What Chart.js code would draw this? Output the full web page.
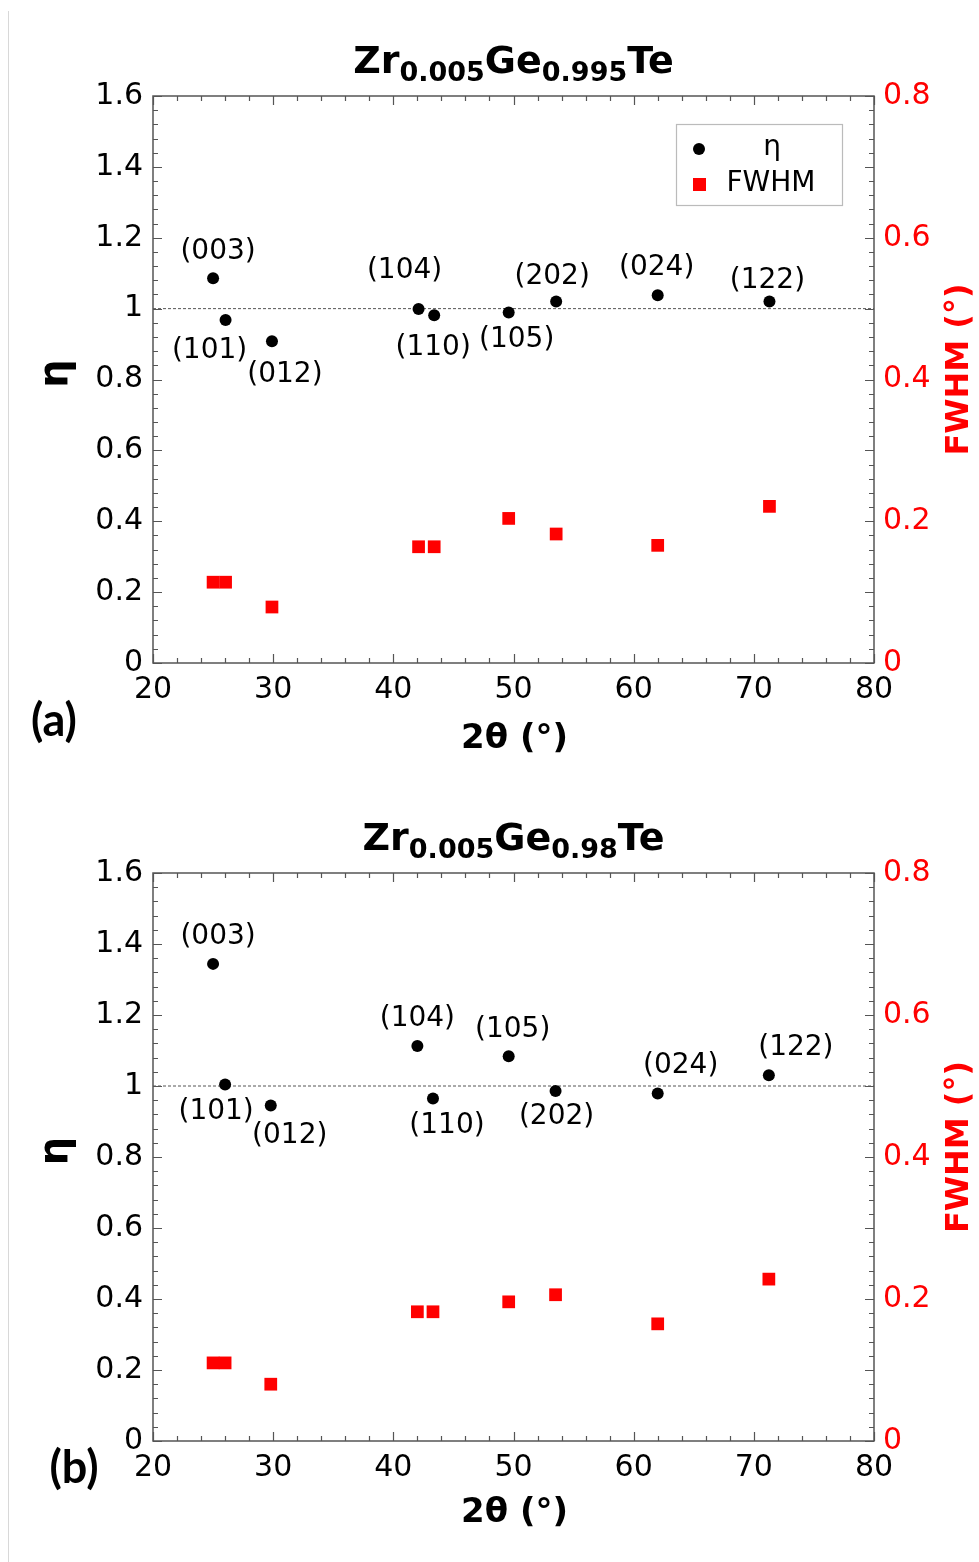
<!DOCTYPE html>
<html>
<head>
<meta charset="utf-8">
<title>η and FWHM vs 2θ</title>
<script src="https://cdn.jsdelivr.net/npm/chart.js@4.4.1/dist/chart.umd.min.js"></script>
<style>
  body { margin: 0; background: #fff; }
  #page { position: relative; width: 979px; height: 1562px; overflow: hidden; }
  #edge { position: absolute; left: 8px; top: 11px; width: 1px; height: 1551px; background: #d8d8d8; }
  canvas { position: absolute; left: 0; }
</style>
</head>
<body>
<div id="page">
  <div id="edge"></div>
  <canvas id="chartA" width="979" height="777" style="top:0"></canvas>
  <canvas id="chartB" width="979" height="785" style="top:777px"></canvas>
</div>
<script>
// reflections, same order in both samples
var reflections = ['(003)', '(101)', '(012)', '(104)', '(110)', '(105)', '(202)', '(024)', '(122)'];

// (a) Zr0.005Ge0.995Te
var twoThetaA = [25.0, 26.04, 29.9, 42.1, 43.4, 49.6, 53.55, 62.0, 71.3];
var etaA      = [1.086, 0.968, 0.908, 0.999, 0.981, 0.989, 1.020, 1.038, 1.020];
var fwhmA     = [0.114, 0.114, 0.079, 0.164, 0.164, 0.204, 0.182, 0.166, 0.221];

// (b) Zr0.005Ge0.98Te
var twoThetaB = [25.0, 26.0, 29.8, 42.0, 43.3, 49.6, 53.5, 62.0, 71.25];
var etaB      = [1.344, 1.004, 0.945, 1.113, 0.965, 1.084, 0.986, 0.979, 1.030];
var fwhmB     = [0.110, 0.110, 0.080, 0.182, 0.182, 0.196, 0.206, 0.165, 0.228];

// η = 1 reference
var refX   = [20, 80];
var refEta = [1, 1];

var titleA = [['Zr', false], ['0.005', true], ['Ge', false], ['0.995', true], ['Te', false]];
var titleB = [['Zr', false], ['0.005', true], ['Ge', false], ['0.98', true], ['Te', false]];

var tickFont = { family: 'DejaVu Sans', size: 30 };

function points(xs, ys) {
    return xs.map(function(x, i) { return { x: x, y: ys[i] }; });
}

function fmt(v) {
    return String(Math.round(v * 10) / 10);
}

/**
 * Frame, inward ticks, hkl labels, title, axis titles and legend.
 */
function decor(cfg) {
    return {
        id: 'decor',
        afterDatasetsDraw: function(chart) {
            var ctx = chart.ctx;
            var a = chart.chartArea;
            var xs = chart.scales.x, ys = chart.scales.y;
            ctx.save();

            // frame + ticks
            ctx.strokeStyle = '#555';
            ctx.lineWidth = 1.5;
            ctx.strokeRect(a.left, a.top, a.right - a.left, a.bottom - a.top);
            ctx.lineWidth = 1.2;
            ctx.beginPath();
            for (var v = 20; v <= 80.001; v += 2) {
                var px = Math.round(xs.getPixelForValue(v)) + 0.5;
                var len = Math.abs(v % 10) < 0.01 ? 9 : 5;
                ctx.moveTo(px, a.bottom); ctx.lineTo(px, a.bottom - len);
                ctx.moveTo(px, a.top); ctx.lineTo(px, a.top + len);
            }
            for (var i = 0; i <= 40; i++) {
                var py = Math.round(ys.getPixelForValue(i * 0.04)) + 0.5;
                var l2 = i % 5 === 0 ? 9 : 5;
                ctx.moveTo(a.left, py); ctx.lineTo(a.left + l2, py);
                ctx.moveTo(a.right, py); ctx.lineTo(a.right - l2, py);
            }
            ctx.stroke();

            // hkl labels next to the η points
            var meta = chart.getDatasetMeta(0);
            ctx.fillStyle = '#000';
            ctx.font = '28px "DejaVu Sans"';
            ctx.textAlign = 'center';
            ctx.textBaseline = 'middle';
            meta.data.forEach(function(pt, k) {
                var o = cfg.offsets[k];
                ctx.fillText(reflections[k], pt.x + o[0], pt.y + o[1]);
            });

            // title with subscripts
            var parts = cfg.title.map(function(p) {
                ctx.font = p[1] ? 'bold 27px "DejaVu Sans"' : 'bold 38px "DejaVu Sans"';
                return { t: p[0], sub: p[1], w: ctx.measureText(p[0]).width };
            });
            var total = parts.reduce(function(s, p) { return s + p.w; }, 0);
            var tx = (a.left + a.right) / 2 - total / 2;
            ctx.textAlign = 'left';
            ctx.textBaseline = 'alphabetic';
            parts.forEach(function(p) {
                ctx.font = p.sub ? 'bold 27px "DejaVu Sans"' : 'bold 38px "DejaVu Sans"';
                ctx.fillText(p.t, tx, p.sub ? 81 : 73);
                tx += p.w;
            });

            // axis titles
            ctx.textAlign = 'center';
            ctx.textBaseline = 'middle';
            ctx.font = 'bold 34px "DejaVu Sans"';
            ctx.fillText('2θ (°)', (a.left + a.right) / 2 + 1, cfg.xTitleY);

            ctx.save();
            ctx.translate(57, (a.top + a.bottom) / 2 - 6);
            ctx.rotate(-Math.PI / 2);
            ctx.font = 'bold 40px "DejaVu Sans"';
            ctx.fillText('η', 0, 0);
            ctx.restore();

            ctx.save();
            ctx.translate(960, (a.top + a.bottom) / 2 - 10);
            ctx.rotate(-Math.PI / 2);
            ctx.fillStyle = '#ff0000';
            ctx.font = 'bold 32px "DejaVu Sans"';
            ctx.fillText('FWHM (°)', 0, 0);
            ctx.restore();

            // panel letter
            ctx.font = 'bold 45px Lato';
            ctx.fillText(cfg.panel, cfg.panelX, cfg.panelY);

            // legend
            if (cfg.legend) {
                ctx.strokeStyle = '#bbb';
                ctx.lineWidth = 1.2;
                ctx.strokeRect(676.5, 124.5, 166, 81);
                ctx.fillStyle = '#000';
                ctx.beginPath();
                ctx.arc(699, 149, 6, 0, Math.PI * 2);
                ctx.fill();
                ctx.fillStyle = '#ff0000';
                ctx.fillRect(693, 178, 13, 13);
                ctx.fillStyle = '#000';
                ctx.font = '28px "DejaVu Sans"';
                ctx.fillText(chart.data.datasets[0].label, 772, 148);
                ctx.fillText(chart.data.datasets[1].label, 771, 184);
            }
            ctx.restore();
        }
    };
}

function buildChart(canvasId, xs, eta, fwhm, cfg) {
    var canvas = document.getElementById(canvasId);
    var H = canvas.height;
    return new Chart(canvas.getContext('2d'), {
        type: 'scatter',
        data: {
            datasets: [{
                label: 'η',
                data: points(xs, eta),
                yAxisID: 'y',
                pointStyle: 'circle',
                pointRadius: 6,
                backgroundColor: '#000',
                borderWidth: 0
            }, {
                label: 'FWHM',
                data: points(xs, fwhm),
                yAxisID: 'y2',
                pointStyle: 'rect',
                pointRadius: 9,
                backgroundColor: '#ff0000',
                borderWidth: 0
            }, {
                type: 'line',
                label: 'ref',
                data: points(refX, refEta),
                yAxisID: 'y',
                borderColor: '#555',
                borderWidth: 1,
                borderDash: [3, 2],
                pointRadius: 0,
                fill: false
            }]
        },
        options: {
            responsive: false,
            animation: false,
            devicePixelRatio: 1,
            events: [],
            layout: { padding: { top: 96, left: 0, right: 0, bottom: 0 } },
            plugins: { legend: { display: false }, tooltip: { enabled: false } },
            scales: {
                x: {
                    type: 'linear', position: 'bottom', min: 20, max: 80,
                    grid: { display: false, drawTicks: false }, border: { display: false },
                    ticks: { stepSize: 10, padding: 9, color: '#000', font: tickFont, maxRotation: 0 },
                    afterFit: function(s) { s.height = H - cfg.plotBottom; }
                },
                y: {
                    type: 'linear', position: 'left', min: 0, max: 1.6,
                    grid: { display: false, drawTicks: false }, border: { display: false },
                    ticks: { stepSize: 0.2, padding: 10, color: '#000', font: tickFont, callback: fmt },
                    afterFit: function(s) { s.width = 153; }
                },
                y2: {
                    type: 'linear', position: 'right', min: 0, max: 0.8,
                    grid: { display: false, drawTicks: false }, border: { display: false },
                    ticks: { stepSize: 0.2, padding: 9, color: '#ff0000', font: tickFont, callback: fmt },
                    afterFit: function(s) { s.width = 105; }
                }
            }
        },
        plugins: [decor(cfg)]
    });
}

buildChart('chartA', twoThetaA, etaA, fwhmA, {
    title: titleA,
    offsets: [[5, -26], [-16, 31], [13, 33], [-14, -38], [-1, 32], [8, 27], [-4, -25], [-1, -27], [-2, -21]],
    plotBottom: 663,
    xTitleY: 739,
    panel: '(a)', panelX: 54, panelY: 721,
    legend: true
});

buildChart('chartB', twoThetaB, etaB, fwhmB, {
    title: titleB,
    offsets: [[5, -27], [-9, 27], [19, 30], [0, -27], [14, 27], [4, -26], [1, 26], [23, -28], [27, -28]],
    plotBottom: 664,
    xTitleY: 736,
    panel: '(b)', panelX: 74, panelY: 691,
    legend: false
});
</script>
</body>
</html>
